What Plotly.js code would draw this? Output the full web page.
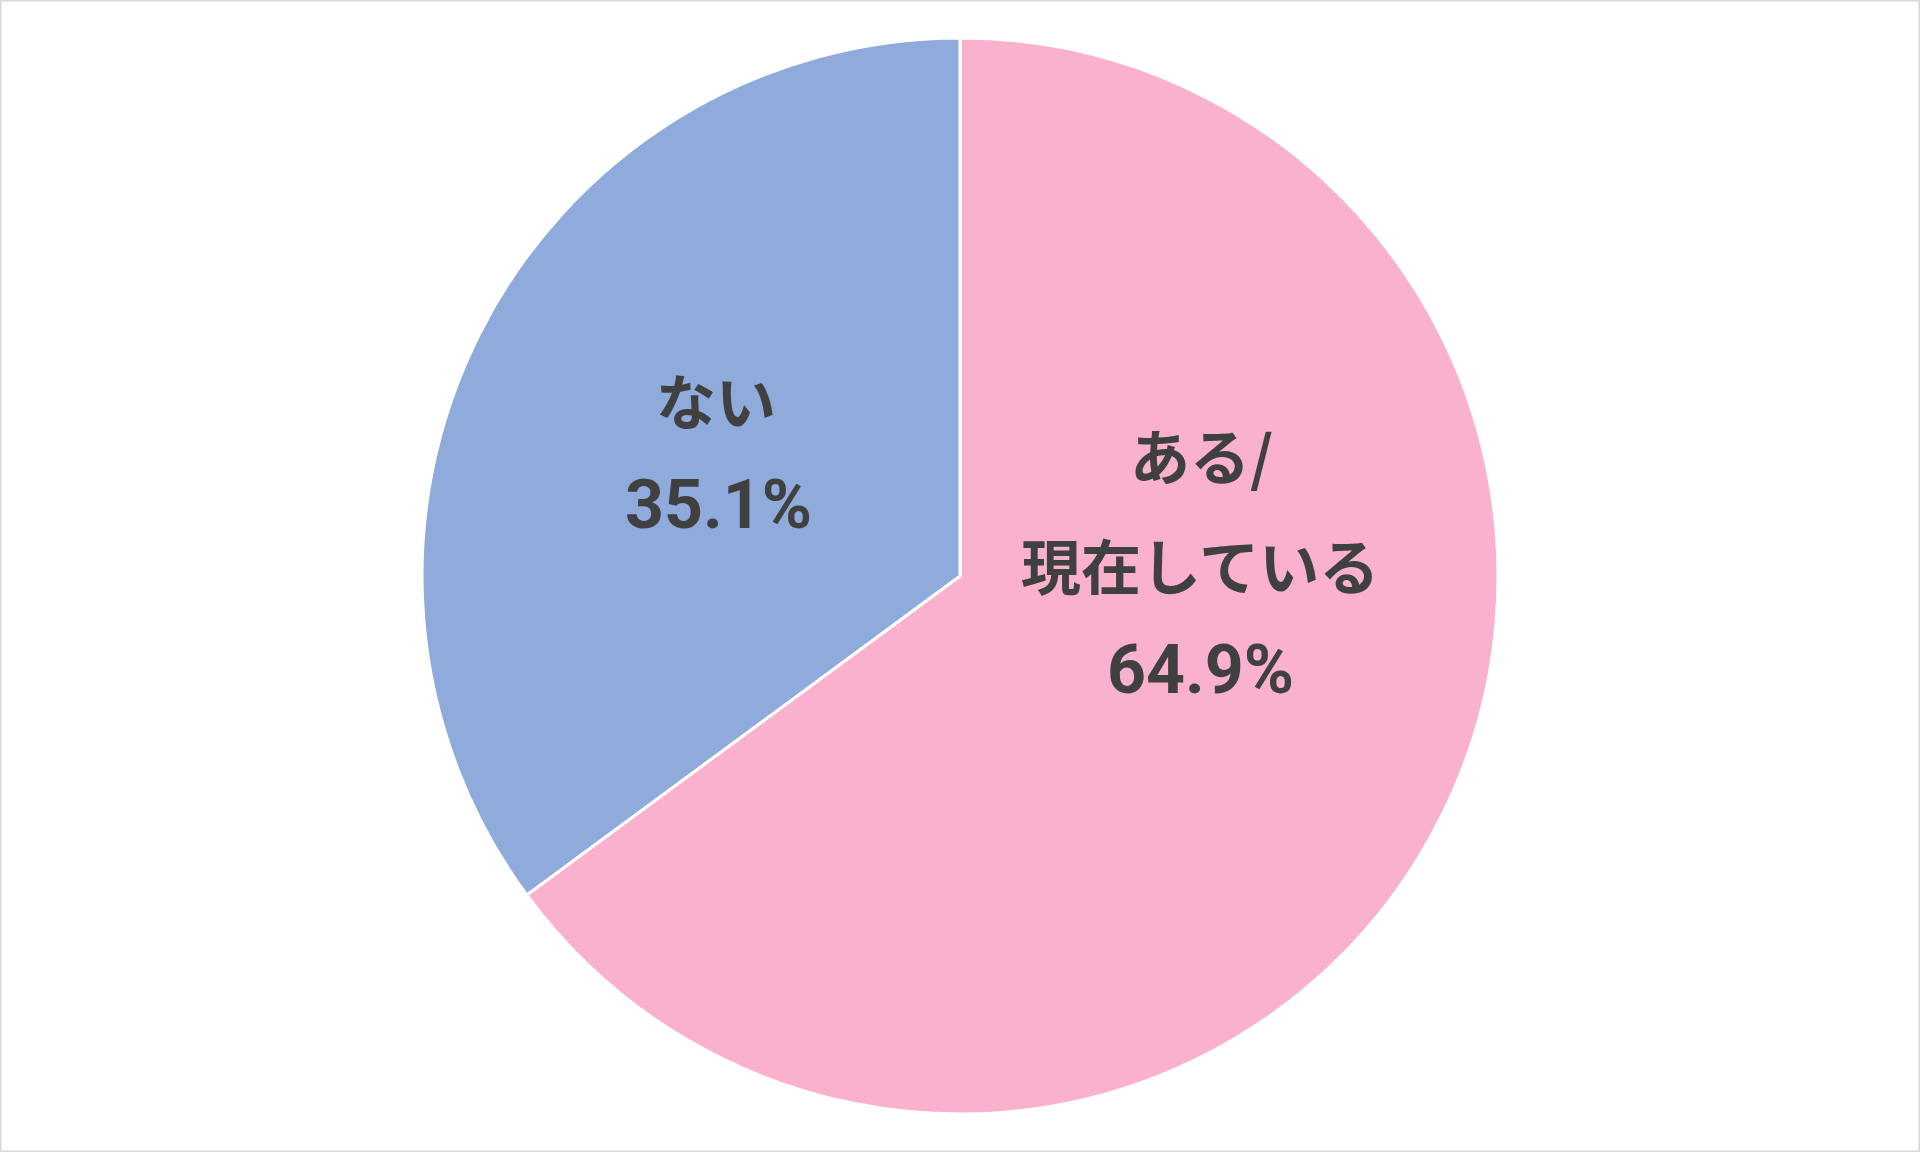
<!DOCTYPE html>
<html>
<head>
<meta charset="utf-8">
<script src="https://cdn.plot.ly/plotly-3.0.1.min.js"></script>
<style>
  html, body { margin: 0; padding: 0; background: #fff; }
  #chart { width: 1920px; height: 1152px; }
</style>
</head>
<body>
<div id="chart"></div>
<script>
const labels = ["ある/現在している", "ない"];
const labelLines = [["ある/", "現在している"], ["ない"]];
const values = [64.9, 35.1];
const colors = ["#F9B1CE", "#8FABDC"];

// label anchor points (paper coords) for each slice, one entry per line
const labelPos = [
  [{ x: 0.626, y: 0.606 }, { x: 0.625, y: 0.511 }, { x: 0.625, y: 0.418 }],
  [{ x: 0.373, y: 0.654 }, { x: 0.374, y: 0.562 }],
];

const kanaFont = '"Noto Sans CJK JP", "Noto Sans", sans-serif';
const numFont = '"Liberation Sans Narrow", Roboto, "Noto Sans", sans-serif';

const trace = {
  type: "pie",
  labels,
  values,
  sort: false,
  direction: "clockwise",
  rotation: 0,
  textinfo: "none",
  hoverinfo: "label+percent",
  marker: { colors, line: { color: "#ffffff", width: 3 } },
  domain: { x: [0, 1], y: [0.033, 0.967] },
  showlegend: false,
};

const annotations = [];
labelLines.forEach((lines, i) => {
  const texts = lines.concat([values[i].toFixed(1) + "%"]);
  texts.forEach((t, j) => {
    const isNum = j === texts.length - 1;
    annotations.push({
      xref: "paper",
      yref: "paper",
      x: labelPos[i][j].x,
      y: labelPos[i][j].y,
      text: "<b>" + t + "</b>",
      showarrow: false,
      xanchor: "center",
      yanchor: "middle",
      font: {
        family: isNum ? numFont : kanaFont,
        size: isNum ? 68 : 60,
        color: "#404040",
      },
    });
  });
});

const layout = {
  width: 1920,
  height: 1152,
  margin: { l: 0, r: 0, t: 0, b: 0 },
  paper_bgcolor: "#ffffff",
  annotations,
  shapes: [{
    type: "rect", xref: "paper", yref: "paper",
    x0: 0, x1: 1, y0: 0, y1: 1,
    line: { color: "#d9d9d9", width: 3 },
  }],
};

Plotly.newPlot("chart", [trace], layout, { displayModeBar: false, staticPlot: true });
</script>
</body>
</html>
